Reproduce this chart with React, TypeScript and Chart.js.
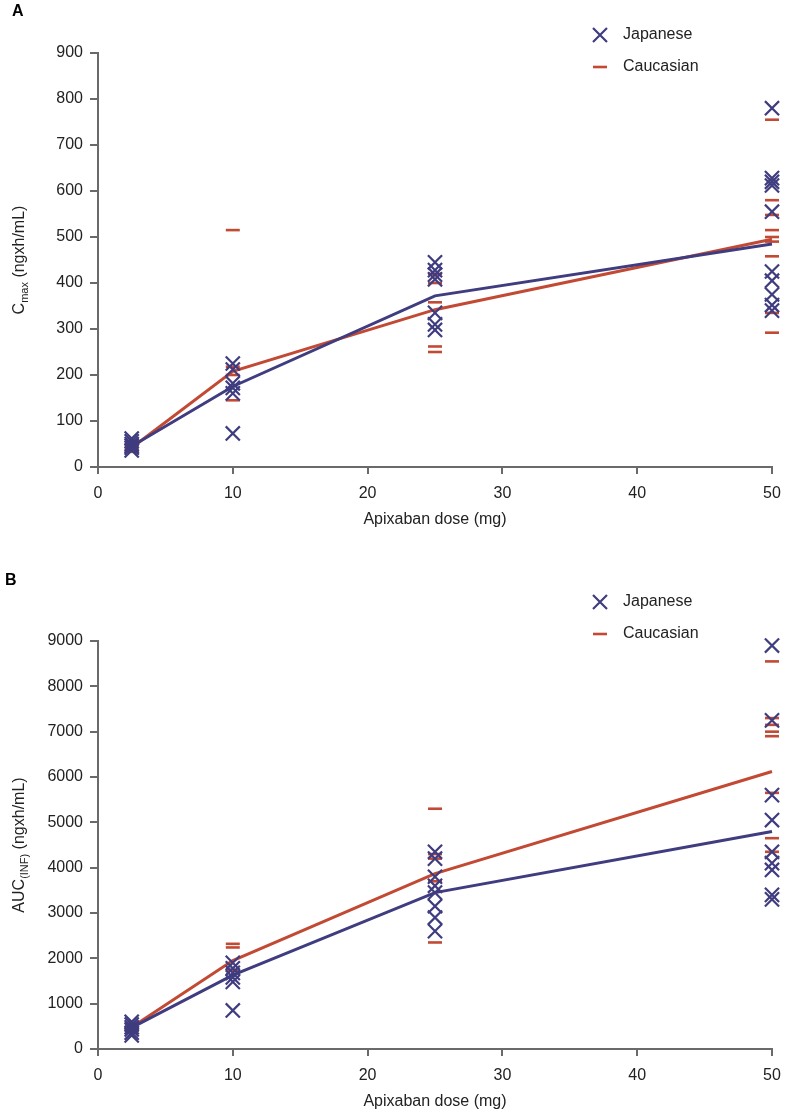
import React, { useEffect, useRef } from 'react';
import { Chart, registerables } from 'chart.js';

Chart.register(...registerables);

// ---------- data ----------
const doses = [2.5, 10, 25, 50];
const xTicks = [0, 10, 20, 30, 40, 50];
const cmaxTicks = [0, 100, 200, 300, 400, 500, 600, 700, 800, 900];
const aucTicks = [0, 1000, 2000, 3000, 4000, 5000, 6000, 7000, 8000, 9000];
const seriesNames = ['Japanese', 'Caucasian'];

// Panel A: Cmax individual values per dose
const cmaxJapanese2_5 = [62, 56, 50, 46, 42, 36];
const cmaxJapanese10 = [225, 212, 182, 172, 160, 73];
const cmaxJapanese25 = [445, 428, 418, 408, 335, 310, 298];
const cmaxJapanese50 = [780, 628, 620, 612, 555, 425, 405, 375, 352, 340];
const cmaxCaucasian2_5 = [52, 45, 40, 33];
const cmaxCaucasian10 = [515, 218, 200, 145];
const cmaxCaucasian25 = [420, 400, 358, 262, 250];
const cmaxCaucasian50 = [755, 580, 548, 515, 500, 490, 458, 335, 292];
const cmaxJapaneseMean = [45, 175, 372, 485];
const cmaxCaucasianMean = [42, 208, 342, 495];

// Panel B: AUC(INF) individual values per dose
const aucJapanese2_5 = [600, 540, 480, 430, 360, 300];
const aucJapanese10 = [1900, 1780, 1680, 1580, 1480, 850];
const aucJapanese25 = [4350, 4200, 3800, 3600, 3450, 3150, 2900, 2600];
const aucJapanese50 = [8900, 7250, 5600, 5050, 4350, 4100, 3950, 3400, 3300];
const aucCaucasian2_5 = [560, 470, 400];
const aucCaucasian10 = [2320, 2240, 1750];
const aucCaucasian25 = [5300, 4300, 4200, 3700, 2350];
const aucCaucasian50 = [8550, 7300, 7150, 7000, 6900, 5650, 4650, 4350];
const aucJapaneseMean = [470, 1630, 3450, 4800];
const aucCaucasianMean = [480, 1950, 3870, 6120];

// ---------- styles ----------
const FONT = "'Liberation Sans', Arial, Helvetica, sans-serif";
const JPN = '#3f3c7f';
const CAU = '#c24a34';
const AXIS = '#6a6a6a';
const TEXT = '#222222';

type Panel = {
  letter: string;
  letterY: number;
  top: number;
  xh: number;
  yMax: number;
  yTicks: number[];
  jpn: number[][];
  cau: number[][];
  jpnMean: number[];
  cauMean: number[];
  titleMain: string;
  titleSub: string;
  legendY: number;
};

const toPoints = (groups: number[][]) =>
  groups.flatMap((vals, i) => vals.map((v) => ({ x: doses[i], y: v })));
const toLine = (means: number[]) => means.map((v, i) => ({ x: doses[i], y: v }));

const panels: Panel[] = [
  {
    letter: 'A',
    letterY: 12,
    top: 53,
    xh: 91,
    yMax: 900,
    yTicks: cmaxTicks,
    jpn: [cmaxJapanese2_5, cmaxJapanese10, cmaxJapanese25, cmaxJapanese50],
    cau: [cmaxCaucasian2_5, cmaxCaucasian10, cmaxCaucasian25, cmaxCaucasian50],
    jpnMean: cmaxJapaneseMean,
    cauMean: cmaxCaucasianMean,
    titleMain: 'C',
    titleSub: 'max',
    legendY: 35,
  },
  {
    letter: 'B',
    letterY: 23,
    top: 83,
    xh: 67,
    yMax: 9000,
    yTicks: aucTicks,
    jpn: [aucJapanese2_5, aucJapanese10, aucJapanese25, aucJapanese50],
    cau: [aucCaucasian2_5, aucCaucasian10, aucCaucasian25, aucCaucasian50],
    jpnMean: aucJapaneseMean,
    cauMean: aucCaucasianMean,
    titleMain: 'AUC',
    titleSub: '(INF)',
    legendY: 44,
  },
];

const W = 785;
const H = 558;

const makeTextPlugin = (p: Panel) => ({
  id: 'panelTexts',
  afterDraw(chart: any) {
    const ctx: CanvasRenderingContext2D = chart.ctx;
    const ca = chart.chartArea;
    ctx.save();
    // panel letter
    ctx.fillStyle = '#000';
    ctx.font = `bold 16px ${FONT}`;
    ctx.textAlign = 'left';
    ctx.textBaseline = 'middle';
    ctx.fillText(p.letter, p.letter === 'A' ? 12 : 5, p.letterY);

    // x title
    ctx.fillStyle = TEXT;
    ctx.font = `16px ${FONT}`;
    ctx.textAlign = 'center';
    ctx.fillText('Apixaban dose (mg)', (ca.left + ca.right) / 2, ca.bottom + 53);

    // y title with subscript (rotated)
    const cy = (ca.top + ca.bottom) / 2;
    const mainFont = `16px ${FONT}`;
    const subFont = `11px ${FONT}`;
    const rest = ' (ngxh/mL)';
    ctx.font = mainFont;
    const w1 = ctx.measureText(p.titleMain).width;
    const w3 = ctx.measureText(rest).width;
    ctx.font = subFont;
    const w2 = ctx.measureText(p.titleSub).width;
    const total = w1 + w2 + w3;
    ctx.translate(0, cy);
    ctx.rotate(-Math.PI / 2);
    ctx.textAlign = 'left';
    ctx.textBaseline = 'alphabetic';
    let cx = -total / 2;
    ctx.font = mainFont;
    ctx.fillText(p.titleMain, cx, 24);
    cx += w1;
    ctx.font = subFont;
    ctx.fillText(p.titleSub, cx, 27.5);
    cx += w2;
    ctx.font = mainFont;
    ctx.fillText(rest, cx, 24);
    ctx.setTransform(1, 0, 0, 1, 0, 0);

    // legend
    const mx = 600;
    const tx = 623;
    const y1 = p.legendY;
    const y2 = p.legendY + 32;
    ctx.lineWidth = 2.2;
    ctx.strokeStyle = JPN;
    ctx.beginPath();
    ctx.moveTo(mx - 7, y1 - 7);
    ctx.lineTo(mx + 7, y1 + 7);
    ctx.moveTo(mx + 7, y1 - 7);
    ctx.lineTo(mx - 7, y1 + 7);
    ctx.stroke();
    ctx.strokeStyle = CAU;
    ctx.lineWidth = 2.6;
    ctx.beginPath();
    ctx.moveTo(mx - 7, y2);
    ctx.lineTo(mx + 7, y2);
    ctx.stroke();
    ctx.fillStyle = TEXT;
    ctx.font = `16px ${FONT}`;
    ctx.textAlign = 'left';
    ctx.textBaseline = 'middle';
    ctx.fillText(seriesNames[0], tx, y1);
    ctx.fillText(seriesNames[1], tx, y2);
    ctx.restore();
  },
});

const zeroPad = (s: any) => {
  s.paddingLeft = 0;
  s.paddingRight = 0;
  s.paddingTop = 0;
  s.paddingBottom = 0;
};

function PanelChart({ p }: { p: Panel }) {
  const ref = useRef<HTMLCanvasElement | null>(null);
  useEffect(() => {
    if (!ref.current) return;
    const chart = new Chart(ref.current, {
      type: 'scatter',
      data: {
        datasets: [
          {
            label: seriesNames[0],
            data: toPoints(p.jpn),
            pointStyle: 'crossRot',
            pointRadius: 10,
            borderColor: JPN,
            backgroundColor: JPN,
            pointBorderWidth: 2.2,
            showLine: false,
            order: 0,
            clip: false,
          } as any,
          {
            label: seriesNames[0] + ' mean',
            data: toLine(p.jpnMean),
            showLine: true,
            pointRadius: 0,
            borderColor: JPN,
            borderWidth: 3,
            order: 1,
            clip: false,
          } as any,
          {
            label: seriesNames[1] + ' mean',
            data: toLine(p.cauMean),
            showLine: true,
            pointRadius: 0,
            borderColor: CAU,
            borderWidth: 3,
            order: 2,
            clip: false,
          } as any,
          {
            label: seriesNames[1],
            data: toPoints(p.cau),
            pointStyle: 'line',
            pointRadius: 7,
            borderColor: CAU,
            backgroundColor: CAU,
            pointBorderWidth: 2.6,
            showLine: false,
            order: 3,
            clip: false,
          } as any,
        ],
      },
      options: {
        animation: false,
        responsive: false,
        events: [],
        layout: { padding: { top: p.top, right: 13, left: 0, bottom: 0 } },
        plugins: { legend: { display: false }, tooltip: { enabled: false } },
        scales: {
          x: {
            type: 'linear',
            min: 0,
            max: 50,
            afterBuildTicks: (s: any) => {
              s.ticks = xTicks.map((v) => ({ value: v }));
            },
            ticks: {
              color: TEXT,
              font: { family: FONT, size: 16 },
              padding: 10,
              maxRotation: 0,
              callback: (v: any) => String(v),
            },
            grid: { drawOnChartArea: false, drawTicks: true, tickLength: 7, color: AXIS, lineWidth: 2 },
            border: { display: true, color: AXIS, width: 2 },
            afterFit: (s: any) => {
              s.height = p.xh;
              zeroPad(s);
            },
          },
          y: {
            type: 'linear',
            min: 0,
            max: p.yMax,
            afterBuildTicks: (s: any) => {
              s.ticks = p.yTicks.map((v) => ({ value: v }));
            },
            ticks: {
              color: TEXT,
              font: { family: FONT, size: 16 },
              padding: 7,
              callback: (v: any) => String(v),
            },
            grid: { drawOnChartArea: false, drawTicks: true, tickLength: 8, color: AXIS, lineWidth: 2 },
            border: { display: true, color: AXIS, width: 2 },
            afterFit: (s: any) => {
              s.width = 98;
              zeroPad(s);
            },
          },
        },
      } as any,
      plugins: [makeTextPlugin(p)],
    });
    return () => chart.destroy();
  }, [p]);
  return <canvas ref={ref} width={W} height={H} style={{ display: 'block', width: W, height: H }} />;
}

export default function App() {
  return (
    <div style={{ position: 'absolute', left: 0, top: 0, width: W, height: H * 2, background: '#fff' }}>
      {panels.map((p) => (
        <PanelChart key={p.letter} p={p} />
      ))}
    </div>
  );
}
